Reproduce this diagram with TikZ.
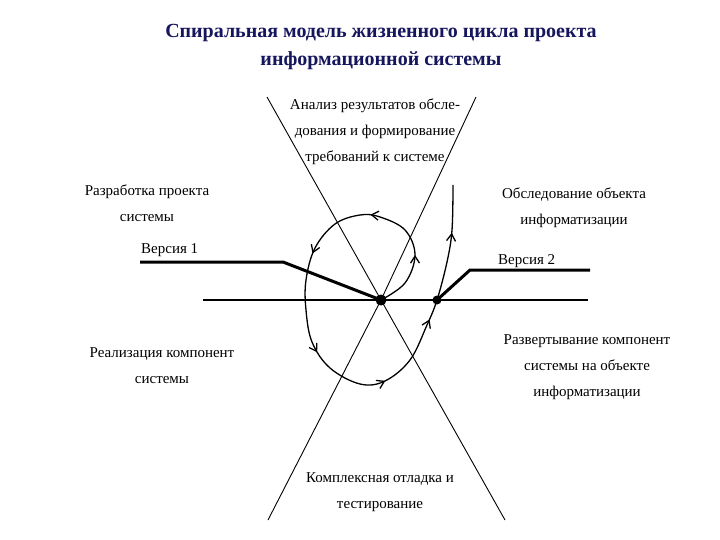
\documentclass[tikz,border=0pt]{standalone}
\usepackage{fontspec}
\setmainfont{Liberation Serif}
\usetikzlibrary{decorations.markings,arrows.meta}

\definecolor{titleblue}{HTML}{16165E}

\tikzset{
    lbl/.style={align=center, font=\fontsize{15}{26}\selectfont, inner sep=1pt},
    crossline/.style={line width=0.9pt},
    axisline/.style={line width=1.8pt},
    verline/.style={line width=3pt},
    spiralpath/.style={line width=1.3pt, postaction={decorate}, decoration={markings,
        mark=at position 0.10 with {\arrow{Straight Barb[length=7pt,width=9pt]}},
        mark=at position 0.21 with {\arrow{Straight Barb[length=7pt,width=9pt]}},
        mark=at position 0.335 with {\arrow{Straight Barb[length=7pt,width=9pt]}},
        mark=at position 0.505 with {\arrow{Straight Barb[length=7pt,width=9pt]}},
        mark=at position 0.64 with {\arrow{Straight Barb[length=7pt,width=9pt]}},
        mark=at position 0.77 with {\arrow{Straight Barb[length=7pt,width=9pt]}},
        mark=at position 0.92 with {\arrow{Straight Barb[length=7pt,width=9pt]}}}}
}

\begin{document}
\begin{tikzpicture}[x=1pt, y=-1pt]

    \useasboundingbox (0,0) rectangle (720,540);

    % title
    \node [font=\fontsize{20}{28}\selectfont\bfseries, text=titleblue, align=center] (title) at (381,47)
        {Спиральная модель жизненного цикла проекта\\информационной системы};

    % points and line ends
    \coordinate (A) at (381,300);
    \coordinate (B) at (437,300);
    \coordinate (axL) at (203,300);
    \coordinate (axR) at (588,300);
    \coordinate (crossTL) at (267,97);
    \coordinate (crossBR) at (505,520);
    \coordinate (crossTR) at (476,97);
    \coordinate (crossBL) at (268,520);
    \coordinate (v1start) at (140,262);
    \coordinate (v1bend) at (283,262);
    \coordinate (v2bend) at (470,270);
    \coordinate (v2end) at (590,270);

    \draw [crossline] (crossTL) -- (A) -- (crossBR);
    \draw [crossline] (crossTR) -- (A) -- (crossBL);
    \draw [axisline] (axL) -- (axR);
    \draw [verline] (v1start) -- (v1bend) -- (A);
    \draw [verline] (B) -- (v2bend) -- (v2end);

    \draw [spiralpath] plot [smooth, tension=0.6] coordinates {
        (A) (405,283) (415,255) (405,230) (380,217) (360,215) (335,224) (315,248)
        (306,280) (306,310) (312,342) (330,368) (360,384) (385,381) (410,360)
        (427,325) (B) (447,262) (452,230) (453,185)};

    \fill (A) circle [radius=5.5pt];
    \fill (B) circle [radius=4.5pt];

    % stages
    \node [lbl] (analysis) at (375,132) {Анализ результатов обсле-\\дования и формирование\\требований к системе};
    \node [lbl] (design) at (147,203) {Разработка проекта\\системы};
    \node [lbl, anchor=base west] (ver1) at (140,253) {Версия 1};
    \node [lbl] (survey) at (574,208) {Обследование объекта\\информатизации};
    \node [lbl, anchor=base west] (ver2) at (497,264) {Версия 2};
    \node [lbl] (build) at (162,366) {Реализация компонент\\системы};
    \node [lbl] (deploy) at (587,367) {Развертывание компонент\\системы на объекте\\информатизации};
    \node [lbl] (testing) at (380,492) {Комплексная отладка и\\тестирование};

\end{tikzpicture}
\end{document}
